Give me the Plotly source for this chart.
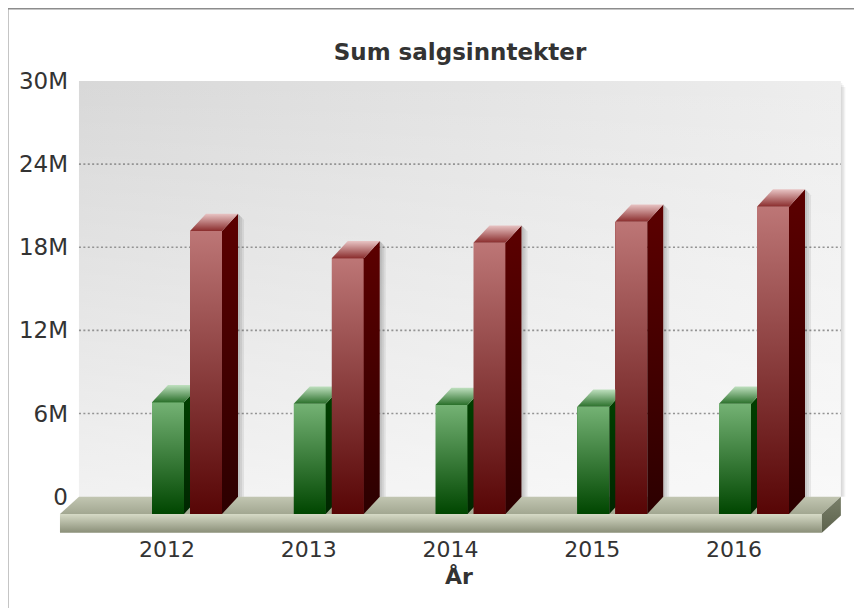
import plotly.graph_objects as go

# ---------------- data ----------------
YEARS = ["2012", "2013", "2014", "2015", "2016"]
GREEN_VALUES = [8.06e6, 7.96e6, 7.87e6, 7.74e6, 7.96e6]
RED_VALUES = [20.42e6, 18.45e6, 19.58e6, 21.09e6, 22.18e6]
SERIES_NAMES = ["Serie 1", "Serie 2"]
Y_TICK_VALUES = [0, 6e6, 12e6, 18e6, 24e6, 30e6]
Y_TICK_TEXT = ["0", "6M", "12M", "18M", "24M", "30M"]
GRID_VALUES = [6e6, 12e6, 18e6, 24e6]
Y_MAX = 30e6
TITLE = "Sum salgsinntekter"
X_TITLE = "År"

# ---------------- geometry (window pixels; page has an 8px body margin) ----------------
W, H = 862, 608
OFF = 8.0


def fx(px):  # window px -> paper x
    return (px - OFF) / W


def fy(px):  # window px -> paper y
    return 1 - (px - OFF) / H


PLOT_L, PLOT_R, PLOT_T, PLOT_B = 50.0, 856.0, 60.0, 534.0
CAT_STEP = 141.75            # px between category centres
FRONT_C0 = 187.0             # px of first category centre (front plane)
BAR_DX, BAR_DY = 16.0, 17.3  # 3D depth of columns
FLOOR_DX = 19.0
FLOOR_THICK = 18.7
ZERO_BACK = 496.7
TOP_BACK = 81.0
PX_PER_UNIT = (ZERO_BACK - TOP_BACK) / Y_MAX
ZERO_FRONT = ZERO_BACK + BAR_DY
BACK_C0 = FRONT_C0 + BAR_DX
WALL_LEFT = -0.875
WALL_RIGHT = len(YEARS) - 0.5
BAR_W = 32.0 / CAT_STEP
GREEN_OFF = -35.0 / CAT_STEP
RED_OFF = 3.0 / CAT_STEP

FONT = "DejaVu Sans"
TXT = "#333333"


def ux(px):
    return px / CAT_STEP


def uy(px):
    return px / PX_PER_UNIT


xr_back = [(PLOT_L - BACK_C0) / CAT_STEP, (PLOT_R - BACK_C0) / CAT_STEP]
xr_front = [(PLOT_L - FRONT_C0) / CAT_STEP, (PLOT_R - FRONT_C0) / CAT_STEP]
yr_back = [(ZERO_BACK - PLOT_B) / PX_PER_UNIT, (ZERO_BACK - PLOT_T) / PX_PER_UNIT]
yr_front = [(ZERO_FRONT - PLOT_B) / PX_PER_UNIT, (ZERO_FRONT - PLOT_T) / PX_PER_UNIT]

fig = go.Figure()


def poly(xs, ys, colorscale=None, color=None, gtype="vertical", axes=("x", "y")):
    kw = dict(x=xs + [xs[0]], y=ys + [ys[0]], fill="toself", mode="none",
              hoverinfo="skip", showlegend=False, xaxis=axes[0], yaxis=axes[1])
    if colorscale is not None:
        kw["fillgradient"] = dict(type=gtype, colorscale=colorscale)
        kw["fillcolor"] = colorscale[0][1]
    else:
        kw["fillcolor"] = color
    fig.add_trace(go.Scatter(**kw))


# ---------- back wall (back axes) ----------
wx = [WALL_LEFT, WALL_RIGHT, WALL_RIGHT, WALL_LEFT]
wy = [0, 0, Y_MAX, Y_MAX]
poly(wx, wy, colorscale=[[0, "#d8d8d8"], [1, "#eeeeee"]], gtype="horizontal")
poly(wx, wy, colorscale=[[0, "rgba(255,255,255,0.65)"], [1, "rgba(255,255,255,0)"]], gtype="vertical")
# wall right-edge shadow
for k in range(3):
    poly([WALL_RIGHT, WALL_RIGHT + ux(1.5 * (k + 1)), WALL_RIGHT + ux(1.5 * (k + 1)), WALL_RIGHT],
         [0, 0, Y_MAX - uy(2 * (k + 1)), Y_MAX - uy(2 * (k + 1))], color="rgba(0,0,0,0.05)")

# gridlines
gx, gy = [], []
for g in GRID_VALUES:
    gx += [WALL_LEFT, WALL_RIGHT, None]
    gy += [g, g, None]
fig.add_trace(go.Scatter(x=gx, y=gy, mode="lines", hoverinfo="skip", showlegend=False,
                         line=dict(color="#939393", width=1.6, dash="2px,2.4px")))

# floor
fdx, fdy, fth = ux(FLOOR_DX), uy(BAR_DY), uy(FLOOR_THICK)
poly([WALL_LEFT, WALL_RIGHT, WALL_RIGHT - fdx, WALL_LEFT - fdx],
     [0, 0, -fdy, -fdy], colorscale=[[0, "#a2a791"], [1, "#c2c6b2"]])
poly([WALL_LEFT - fdx, WALL_RIGHT - fdx, WALL_RIGHT - fdx, WALL_LEFT - fdx],
     [-fdy, -fdy, -fdy - fth, -fdy - fth], colorscale=[[0, "#8a8f78"], [1, "#d6dac6"]])
poly([WALL_RIGHT - fdx, WALL_RIGHT, WALL_RIGHT, WALL_RIGHT - fdx],
     [-fdy, 0, -fth, -fdy - fth], colorscale=[[0, "#5c624c"], [1, "#7a806a"]])

# ---------- columns (front axes) ----------
xs_idx = list(range(len(YEARS)))
series = [
    (SERIES_NAMES[0], GREEN_VALUES, GREEN_OFF, "#2f7a2f",
     [[0, "#004600"], [1, "#74b274"]], [[0, "#002600"], [1, "#004200"]],
     [[0, "#2a702a"], [1, "#bfe0bf"]]),
    (SERIES_NAMES[1], RED_VALUES, RED_OFF, "#8a3535",
     [[0, "#570505"], [1, "#bd7676"]], [[0, "#2c0000"], [1, "#5c0000"]],
     [[0, "#8a2c2c"], [1, "#e8c4c4"]]),
]
for name, vals, off, col, *_ in series:
    fig.add_trace(go.Bar(x=xs_idx, y=vals, name=name, offset=off, width=BAR_W,
                         marker=dict(color=col, line=dict(width=0)),
                         xaxis="x2", yaxis="y2", showlegend=False, hoverinfo="x+y"))

bdx, bdy = ux(BAR_DX), uy(BAR_DY)
# soft shadows
for i in xs_idx:
    for name, vals, off, col, *_ in series:
        v = vals[i]
        x1 = i + off + BAR_W
        for k in range(3):
            s = ux(2.0 * (k + 1))
            poly([x1 + bdx, x1 + bdx + s, x1 + bdx + s, x1 + bdx],
                 [bdy, bdy, v + bdy - uy(2 * (k + 1)), v + bdy],
                 color="rgba(0,0,0,0.07)", axes=("x2", "y2"))
# faces
for i in xs_idx:
    for name, vals, off, col, front, side, top in series:
        v = vals[i]
        x0 = i + off
        x1 = x0 + BAR_W
        poly([x0, x1, x1, x0], [0, 0, v, v], colorscale=front, axes=("x2", "y2"))
        poly([x1, x1 + bdx, x1 + bdx, x1], [0, bdy, v + bdy, v], colorscale=side, axes=("x2", "y2"))
        poly([x0, x1, x1 + bdx, x0 + bdx], [v, v, v + bdy, v + bdy], colorscale=top, axes=("x2", "y2"))

fig.update_layout(
    width=W, height=H, autosize=False,
    margin=dict(l=0, r=0, t=0, b=0),
    paper_bgcolor="white", plot_bgcolor="rgba(0,0,0,0)",
    font=dict(family=FONT, color=TXT, size=22),
    showlegend=False,
    bargap=0,
    title=dict(text="<b>" + TITLE + "</b>", x=fx(460), y=fy(52), xanchor="center", yanchor="middle",
               xref="paper", yref="paper", font=dict(family=FONT, size=23, color=TXT)),
    xaxis=dict(domain=[fx(PLOT_L), fx(PLOT_R)], range=xr_back, visible=False, fixedrange=True),
    yaxis=dict(domain=[fy(PLOT_B), fy(PLOT_T)], range=yr_back, anchor="free", position=fx(79),
               tickvals=Y_TICK_VALUES, ticktext=Y_TICK_TEXT, showgrid=False, zeroline=False,
               showline=False, ticks="", ticklabelstandoff=11, tickfont=dict(size=23, color=TXT)),
    xaxis2=dict(overlaying="x", range=xr_front, anchor="y2", side="bottom",
                tickvals=xs_idx, ticktext=YEARS, ticklabelshift=-20, showgrid=False, zeroline=False,
                showline=False, ticks="", tickfont=dict(size=22, color=TXT)),
    yaxis2=dict(overlaying="y", range=yr_front, visible=False),
    annotations=[dict(text="<b>" + X_TITLE + "</b>", x=fx(459.5), y=fy(576), xref="paper", yref="paper",
                      xanchor="center", yanchor="middle", showarrow=False,
                      font=dict(family=FONT, size=22, color=TXT))],
    shapes=[dict(type="rect", xref="paper", yref="paper", x0=fx(7.5), x1=fx(W + 20),
                 y0=fy(H + 20), y1=fy(8.5), line=dict(color="#8c8c8c", width=2), layer="above")],
)

fig.write_html("out.html")
